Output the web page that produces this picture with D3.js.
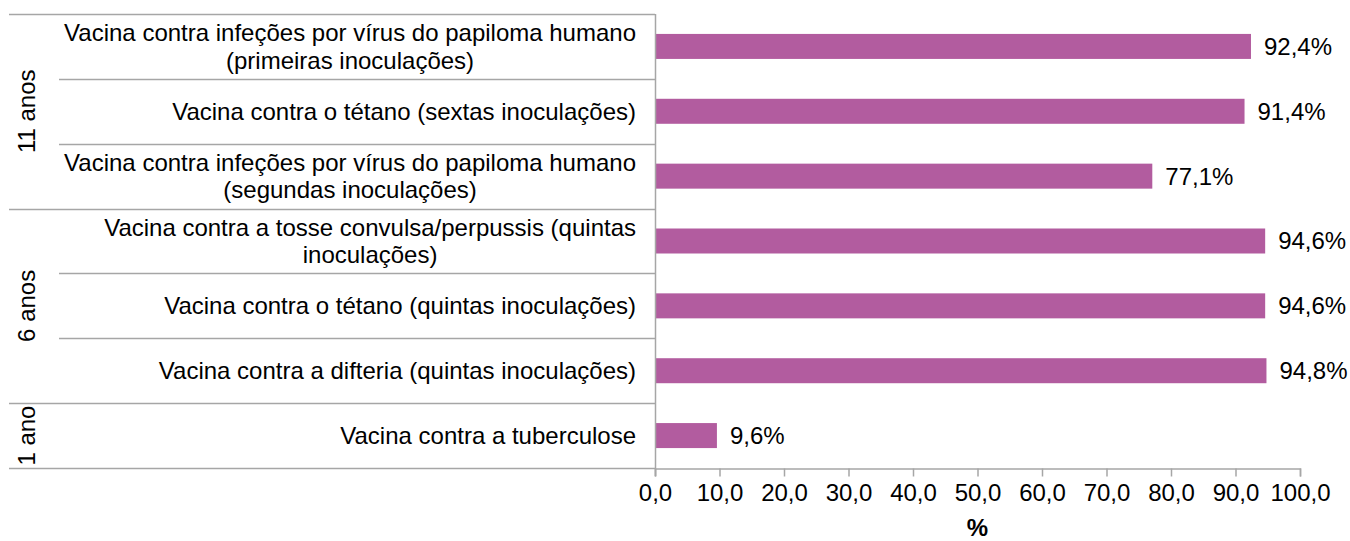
<!DOCTYPE html>
<html>
<head>
<meta charset="utf-8">
<script src="https://cdn.jsdelivr.net/npm/d3@7"></script>
<style>
  body { margin: 0; background: #fff; }
  text { font-family: "Liberation Sans", Arial, sans-serif; fill: #000; }
</style>
</head>
<body>
<div id="grafico"></div>
<script>
// Datos (de arriba a abajo)
const categorias = [
  "Vacina contra infeções por vírus do papiloma humano\n(primeiras inoculações)",
  "Vacina contra o tétano (sextas inoculações)",
  "Vacina contra infeções por vírus do papiloma humano\n(segundas inoculações)",
  "Vacina contra a tosse convulsa/perpussis (quintas\ninoculações)",
  "Vacina contra o tétano (quintas inoculações)",
  "Vacina contra a difteria (quintas inoculações)",
  "Vacina contra a tuberculose"
];
const valores = [92.4, 91.4, 77.1, 94.6, 94.6, 94.8, 9.6];
const grupos = ["11 anos", "6 anos", "1 ano"];
const tamGrupos = [3, 3, 1];
const ticks = [0, 10, 20, 30, 40, 50, 60, 70, 80, 90, 100];
const tituloX = "%";

const width = 1350, height = 541;
const margin = { top: 14, right: 50, bottom: 73, left: 655 };
const colorBarra = "#b25c9f";
const colorLinea = "#a6a6a6";
const fmt = d => d3.format(".1f")(d).replace(".", ",");

const svg = d3.select("#grafico").append("svg")
  .attr("width", width)
  .attr("height", height);

const x = d3.scaleLinear().domain([0, 100]).range([margin.left, width - margin.right]);
// Cada fila ocupa una banda completa; la barra va centrada en ella
const y = d3.scaleBand()
  .domain(d3.range(categorias.length + 1))
  .range([margin.top, height - margin.bottom + (height - margin.bottom - margin.top) / categorias.length]);
const altoFila = y.step();
const filaY = i => y(i);

// Lineas separadoras entre filas (cortas) y entre grupos (largas)
const inicioGrupo = [0];
tamGrupos.forEach((n, i) => inicioGrupo.push(inicioGrupo[i] + n));
const separadores = d3.range(categorias.length + 1).map(i => ({
  i: i,
  largo: inicioGrupo.includes(i)
}));
svg.append("g").selectAll("line")
  .data(separadores)
  .join("line")
  .attr("x1", d => d.largo ? 9 : 59)
  .attr("x2", margin.left)
  .attr("y1", d => Math.round(filaY(d.i)) + 0.5)
  .attr("y2", d => Math.round(filaY(d.i)) + 0.5)
  .style("stroke", colorLinea)
  .style("stroke-width", "1.5px");

// Barras
svg.append("g").selectAll("rect")
  .data(valores)
  .join("rect")
  .attr("x", x(0))
  .attr("y", (d, i) => filaY(i) + altoFila / 2 - 12.5)
  .attr("width", d => x(d) - x(0))
  .attr("height", 25)
  .style("fill", colorBarra);

// Etiquetas de valor
svg.append("g").selectAll("text")
  .data(valores)
  .join("text")
  .attr("x", d => x(d) + 13)
  .attr("y", (d, i) => filaY(i) + altoFila / 2)
  .attr("dy", "0.35em")
  .style("font-size", "24px")
  .text(d => fmt(d) + "%");

// Eje vertical
svg.append("line")
  .attr("x1", x(0) + 0.5).attr("x2", x(0) + 0.5)
  .attr("y1", margin.top).attr("y2", height - margin.bottom + 8)
  .style("stroke", colorLinea)
  .style("stroke-width", "1.5px");

// Eje horizontal
const ejeX = svg.append("g")
  .attr("transform", "translate(0," + (Math.round(filaY(categorias.length)) + 0.5) + ")")
  .call(d3.axisBottom(x).tickValues(ticks).tickFormat(fmt).tickSize(8).tickPadding(7));
ejeX.select(".domain").style("stroke", colorLinea).style("stroke-width", "1.5px");
ejeX.selectAll(".tick line").style("stroke", colorLinea).style("stroke-width", "1.5px");
ejeX.selectAll(".tick text")
  .style("font-size", "24px")
  .style("font-family", "'Liberation Sans', Arial, sans-serif")
  .attr("fill", "#000");

svg.append("text")
  .attr("x", (x(0) + x(100)) / 2)
  .attr("y", 536)
  .attr("text-anchor", "middle")
  .style("font-size", "24px")
  .style("font-weight", "bold")
  .text(tituloX);

// Etiquetas de categoria: bloque alineado a la derecha, lineas centradas entre si
const bordeDerecho = 636;
const etiquetas = svg.append("g").selectAll("text")
  .data(categorias)
  .join("text")
  .attr("text-anchor", "middle")
  .style("font-size", "24px")
  .attr("y", (d, i) => filaY(i) + altoFila / 2);
etiquetas.each(function (d) {
  const lineas = d.split("\n");
  const t = d3.select(this);
  const spans = lineas.map((l, k) =>
    t.append("tspan")
      .attr("dy", k === 0 ? (0.35 - (lineas.length - 1) * 0.57) + "em" : "1.14em")
      .text(l)
  );
  const anchoMax = d3.max(spans, s => s.node().getComputedTextLength());
  spans.forEach(s => s.attr("x", bordeDerecho - anchoMax / 2));
});

// Etiquetas de grupo (rotadas)
svg.append("g").selectAll("text")
  .data(grupos)
  .join("text")
  .attr("text-anchor", "middle")
  .style("font-size", "24px")
  .attr("transform", (d, i) => {
    const cy = filaY(inicioGrupo[i]) + tamGrupos[i] * altoFila / 2;
    return "translate(27," + cy + ") rotate(-90)";
  })
  .attr("dy", "0.35em")
  .text(d => d);
</script>
</body>
</html>
